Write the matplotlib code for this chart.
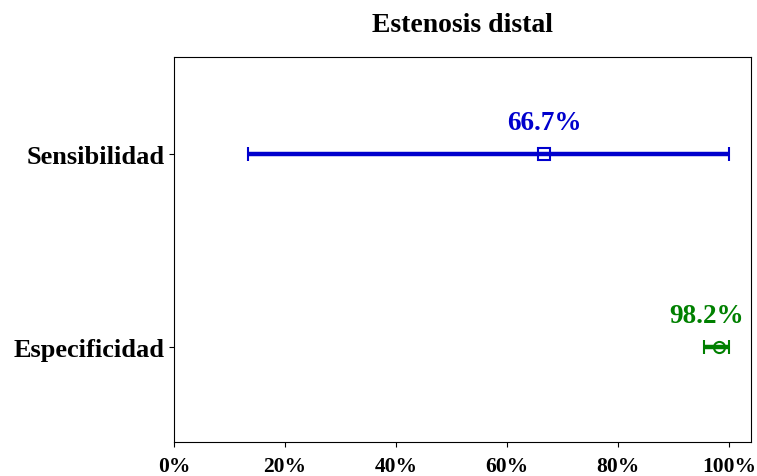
import matplotlib
matplotlib.use("Agg")
import matplotlib.pyplot as plt
from matplotlib.ticker import PercentFormatter

plt.rcParams['font.family'] = ['Liberation Serif', 'DejaVu Serif']
plt.rcParams['font.weight'] = 'bold'

categories = ['Especificidad', 'Sensibilidad']
estimates = [0.982, 0.667]
ci_low = [0.955, 0.133]
ci_high = [1.0, 1.0]
colors = ['#008000', '#0000CD']
markers = ['o', 's']
# small horizontal nudge so the label stays inside the axes
label_dx = [-9, 0]

fig, ax = plt.subplots(figsize=(7.57, 4.77), dpi=100)
fig.subplots_adjust(left=0.23, right=0.992, top=0.8784, bottom=0.0713)

for i, (est, lo, hi) in enumerate(zip(estimates, ci_low, ci_high)):
    ax.errorbar(est, i, xerr=[[est - lo], [hi - est]], fmt=markers[i],
                color=colors[i], mfc='none', mec=colors[i], ms=8, mew=1.5,
                elinewidth=3.2, capsize=4.7, capthick=3)
    ax.annotate('{:.1f}%'.format(est * 100), (est, i), xytext=(label_dx[i], 23),
                textcoords='offset points', ha='center', va='center',
                color=colors[i], fontsize=19.5, fontweight='bold')

ax.set_yticks(range(len(categories)))
ax.set_yticklabels(categories, fontsize=19, fontweight='bold')
ax.set_ylim(-0.49, 1.503)
ax.set_xlim(0, 1.04)
ax.set_xticks([0, 0.2, 0.4, 0.6, 0.8, 1.0])
ax.xaxis.set_major_formatter(PercentFormatter(1.0, decimals=0))
ax.tick_params(axis='x', pad=6.5)
for lbl in ax.get_xticklabels():
    lbl.set_fontsize(15.5)
    lbl.set_fontweight('bold')
ax.set_title('Estenosis distal', fontsize=20, fontweight='bold', pad=19)

fig.savefig('out.png', dpi=100)
